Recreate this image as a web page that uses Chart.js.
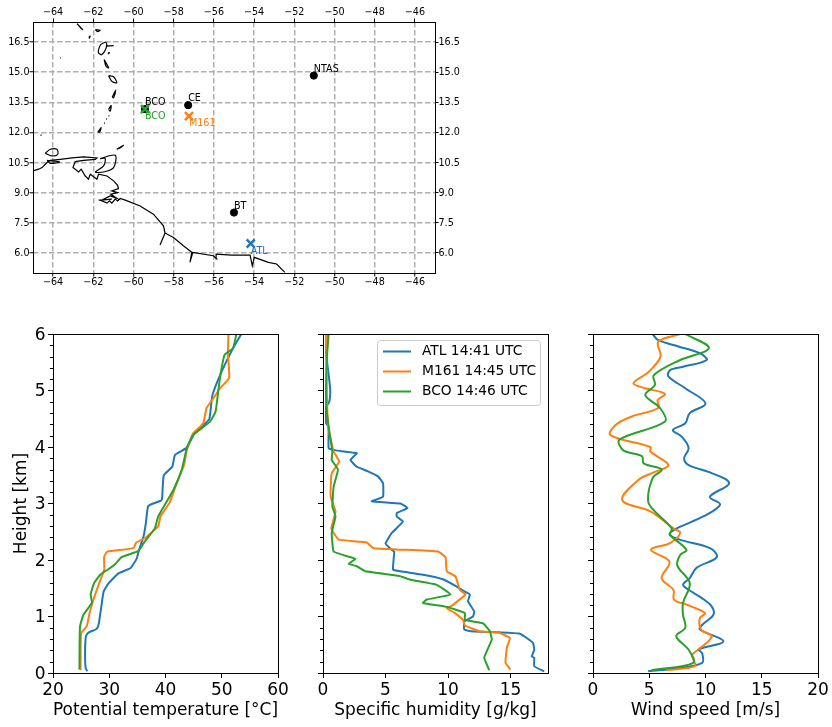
<!DOCTYPE html>
<html>
<head>
<meta charset="utf-8">
<title>Soundings</title>
<script src="https://cdn.jsdelivr.net/npm/chart.js@4/dist/chart.umd.js"></script>
<style>
  html, body { margin: 0; padding: 0; background: #fff; }
  canvas { position: absolute; }
</style>
</head>
<body>
<canvas id="mapChart" width="470" height="300" style="left:0;top:0"></canvas>
<canvas id="thetaChart" width="300" height="407" style="left:0;top:320px"></canvas>
<canvas id="humidityChart" width="270" height="407" style="left:300px;top:320px"></canvas>
<canvas id="windChart" width="262" height="407" style="left:570px;top:320px"></canvas>
<script>
// Tick labels
const lonTicks = [-64, -62, -60, -58, -56, -54, -52, -50, -48, -46];
const latTicks = [6, 7.5, 9, 10.5, 12, 13.5, 15, 16.5];
const heightMinorTicks = [0.2, 0.4, 0.6, 0.8, 1.2, 1.4, 1.6, 1.8, 2.2, 2.4, 2.6, 2.8, 3.2, 3.4, 3.6, 3.8, 4.2, 4.4, 4.6, 4.8, 5.2, 5.4, 5.6, 5.8];

// Stations on the map
const stationNames = ['BCO', 'CE', 'NTAS', 'BT'];
const stationLon = [-59.43, -57.28, -51.03, -55.0];
const stationLat = [13.16, 13.36, 14.83, 8.01];
const launchNames = ['ATL', 'M161', 'BCO'];
const launchLon = [-54.17, -57.24, -59.43];
const launchLat = [6.47, 12.81, 13.16];

// Coast of South America
const mainCoastLon = [-65, -64.72, -64.55, -64.3, -64.14, -63.64, -63.06, -62.48, -61.82, -61.9, -62.48, -62.9, -63.01, -62.73, -62.6, -62.4, -62.24, -62.15, -61.82, -61.74, -61.32, -60.99, -60.79, -60.75, -61.08, -60.79, -61.13, -60.83, -61.16, -61.58, -61.08, -61.66, -61.32, -61.19, -61.08, -60.91, -60.79, -60.66, -60.41, -59.67, -59.01, -58.51, -58.43, -58.68, -58.43, -58.01, -57.52, -57.1, -57.19, -57.05, -56.03, -55.86, -55.89, -55.12, -54.2, -54.09, -53.99, -53.29, -52.88, -52.47];
const mainCoastLat = [10.08, 10.17, 10.25, 10.5, 10.61, 10.66, 10.73, 10.78, 10.73, 10.66, 10.61, 10.55, 10.25, 10.03, 10.17, 9.83, 9.67, 9.92, 9.67, 9.92, 9.83, 9.59, 9.37, 9.2, 9.09, 9.0, 8.92, 8.72, 8.84, 8.63, 8.68, 8.63, 8.48, 8.59, 8.48, 8.68, 8.59, 8.71, 8.63, 8.34, 7.93, 7.35, 6.99, 6.39, 6.99, 6.77, 6.36, 6.03, 5.53, 6.03, 5.86, 5.7, 5.94, 5.89, 5.89, 5.36, 5.78, 5.53, 5.45, 5.03];

// Islands, null starts a new one
const islandLon = [-61.66, -60.91, -60.99, -61.49, -61.9, -61.49, -61.41, -61.66, null,
  -64.39, -64.14, -63.81, -63.77, -64.06, -64.39, null,
  -64.3, -63.68, -64.14, -64.3, null,
  -60.83, -60.5, -60.7, -60.83, null,
  -61.77, -61.61, -61.69, -61.77, null,
  -61.46, -61.42, null, -61.36, -61.32, null, -61.24, -61.2, null,
  -61.24, -61.11, -61.16, -61.24, null,
  -61.06, -60.88, -60.99, -61.06, null,
  -61.24, -60.99, -60.83, -61.08, -61.24, null,
  -61.46, -61.24, -61.37, -61.46, null,
  -61.74, -61.63, -61.38, -61.33, -61.57, -61.74, -61.74, null,
  -61.38, -60.99, null,
  -61.27, -61.2, -61.24, -61.27, null,
  -61.9, -61.66, -61.79, -61.9, null,
  -62.22, -62.16, -62.19, -62.22, null,
  -62.81, -62.53, -62.6, -62.81, null,
  -64.63, -64.57, null,
  -63.66, -63.62];
const islandLat = [10.7, 10.86, 10.25, 10.03, 10.03, 10.33, 10.7, 10.7, null,
  10.96, 11.16, 11.16, 10.91, 10.83, 10.96, null,
  10.61, 10.53, 10.46, 10.61, null,
  11.16, 11.36, 11.21, 11.16, null,
  12.02, 12.24, 12.02, 12.02, null,
  12.45, 12.48, null, 12.65, 12.68, null, 12.81, 12.84, null,
  13.15, 13.34, 13.06, 13.15, null,
  13.76, 14.11, 13.73, 13.76, null,
  14.83, 14.77, 14.47, 14.55, 14.83, null,
  15.63, 15.22, 15.3, 15.63, null,
  16.13, 16.37, 16.49, 16.29, 15.88, 15.96, 16.13, null,
  16.3, 16.32, null,
  15.96, 15.98, 15.92, 15.96, null,
  17.12, 17.09, 17.02, 17.12, null,
  16.75, 16.8, 16.7, 16.75, null,
  17.42, 17.12, 17.17, 17.42, null,
  11.87, 11.87, null,
  15.71, 15.71];

// Potential temperature profiles
const atlThetaHeight = [0.03, 0.09, 0.35, 0.62, 0.68, 0.72, 0.77, 0.82, 0.91, 1.18, 1.44, 1.59, 1.76, 1.86, 2.03, 2.18, 2.42, 2.65, 2.95, 3.0, 3.05, 3.1, 3.5, 3.65, 3.86, 3.98, 4.08, 4.25, 4.37, 4.5, 4.9, 5.2, 5.55, 5.8, 6.0];
const atlTheta = [26.1, 25.8, 25.7, 25.8, 26.0, 26.4, 27.6, 28.0, 28.2, 28.6, 29.0, 29.9, 31.6, 33.8, 34.9, 35.3, 36.1, 36.5, 36.9, 37.8, 39.2, 39.4, 39.7, 41.2, 41.7, 43.7, 44.3, 45.2, 46.6, 47.8, 48.3, 49.4, 51.0, 52.3, 53.5];
const m161ThetaHeight = [0.05, 0.7, 0.83, 1.06, 1.3, 1.56, 1.83, 2.06, 2.15, 2.21, 2.31, 2.39, 2.6, 2.77, 3.03, 3.42, 3.68, 3.95, 4.24, 4.42, 4.69, 4.86, 5.04, 5.22, 5.66, 6.0];
const m161Theta = [24.9, 25.0, 26.0, 26.5, 27.2, 28.1, 29.1, 29.1, 29.7, 34.3, 34.8, 36.4, 38.7, 39.1, 40.8, 42.2, 43.3, 43.8, 44.9, 46.7, 47.3, 48.5, 49.7, 51.3, 51.1, 51.2];
const bcoThetaHeight = [0.06, 0.82, 1.03, 1.24, 1.39, 1.59, 1.74, 1.84, 1.92, 2.05, 2.16, 2.3, 2.56, 2.77, 3.24, 3.6, 3.98, 4.21, 4.45, 4.63, 5.01, 5.3, 5.63, 5.75, 6.0];
const bcoTheta = [24.7, 24.8, 25.4, 26.9, 26.7, 27.3, 28.4, 29.9, 31.0, 32.2, 35.2, 36.1, 38.1, 38.7, 41.4, 42.9, 43.8, 44.9, 47.9, 48.9, 49.4, 49.8, 50.5, 52.0, 52.6];

// Specific humidity profiles
const atlHumidityHeight = [0.03, 0.12, 0.27, 0.29, 0.41, 0.53, 0.62, 0.7, 0.72, 0.74, 0.77, 0.91, 1.0, 1.09, 1.27, 1.39, 1.44, 1.53, 1.66, 1.74, 1.8, 1.83, 2.15, 2.18, 2.29, 2.48, 2.68, 2.77, 2.83, 2.92, 3.0, 3.04, 3.12, 3.36, 3.48, 3.57, 3.65, 3.77, 3.89, 3.94, 3.98, 4.36, 4.42, 4.71, 4.8, 5.0, 5.19, 5.66, 6.0];
const atlHumidity = [17.7, 16.9, 16.9, 16.7, 16.9, 16.8, 16.3, 15.7, 14.1, 11.8, 11.3, 11.3, 12.0, 12.1, 11.6, 11.75, 11.35, 10.7, 9.6, 8.0, 6.2, 5.6, 5.7, 5.5, 5.0, 5.5, 6.4, 5.9, 5.9, 6.75, 6.2, 3.9, 4.8, 4.8, 4.4, 3.6, 2.7, 2.2, 2.7, 1.0, 0.45, 0.45, 0.25, 0.25, 0.5, 0.58, 0.5, 0.25, 0.3];
const m161HumidityHeight = [0.06, 0.18, 0.44, 0.62, 0.71, 0.74, 0.84, 0.94, 1.06, 1.15, 1.19, 1.39, 1.47, 1.71, 1.8, 2.05, 2.15, 2.21, 2.31, 2.36, 2.48, 2.56, 2.86, 3.09, 3.18, 3.54, 3.74, 3.92, 4.36, 5.07, 6.0];
const m161Humidity = [15.0, 14.6, 14.7, 14.95, 14.1, 12.5, 11.35, 11.2, 10.55, 9.9, 10.3, 11.4, 10.95, 10.6, 9.9, 9.8, 9.2, 4.05, 3.5, 1.25, 0.85, 0.66, 1.0, 0.65, 0.6, 0.7, 1.3, 0.85, 0.4, 0.3, 0.25];
const bcoHumidityHeight = [0.05, 0.27, 0.59, 0.74, 0.88, 0.94, 1.06, 1.17, 1.24, 1.3, 1.39, 1.56, 1.65, 1.72, 1.8, 1.89, 1.93, 2.02, 2.06, 2.15, 2.48, 2.77, 2.95, 3.3, 3.6, 3.77, 3.92, 4.36, 4.77, 5.54, 6.0];
const bcoHumidity = [13.3, 12.9, 13.5, 13.35, 12.8, 11.35, 11.35, 9.9, 8.0, 8.3, 10.2, 9.1, 7.0, 6.05, 3.4, 2.7, 2.05, 2.6, 2.05, 0.85, 0.7, 1.0, 0.75, 0.85, 1.2, 0.7, 0.75, 0.45, 0.25, 0.3, 0.45];

// Wind speed profiles
const atlWindHeight = [0.03, 0.09, 0.18, 0.35, 0.42, 0.56, 0.77, 0.85, 1.03, 1.18, 1.33, 1.46, 1.56, 1.68, 1.86, 2.05, 2.21, 2.36, 2.45, 2.56, 2.77, 2.98, 3.12, 3.36, 3.55, 3.68, 3.8, 3.98, 4.18, 4.3, 4.42, 4.6, 4.77, 5.04, 5.25, 5.36, 5.42, 5.54, 5.66, 5.78, 5.89, 6.0];
const atlWind = [4.9, 7.7, 9.7, 9.7, 9.4, 11.6, 9.5, 9.7, 10.7, 10.55, 9.65, 8.6, 8.0, 8.6, 9.2, 11.0, 10.4, 7.7, 6.8, 7.45, 9.8, 11.3, 10.4, 12.1, 10.4, 8.5, 8.1, 8.5, 7.9, 7.1, 8.2, 8.6, 10.0, 8.2, 6.7, 6.85, 8.0, 10.1, 9.5, 7.6, 5.8, 5.3];
const m161WindHeight = [0.05, 0.12, 0.27, 0.32, 0.64, 0.77, 0.97, 1.06, 1.21, 1.3, 1.47, 1.68, 1.97, 2.18, 2.3, 2.48, 2.56, 2.86, 3.06, 3.42, 3.55, 3.68, 3.92, 4.0, 4.21, 4.39, 4.54, 4.69, 4.83, 4.94, 5.04, 5.13, 5.33, 5.6, 5.86, 6.0];
const m161Wind = [6.55, 9.05, 8.85, 8.8, 10.55, 9.6, 9.5, 9.95, 8.3, 7.2, 7.15, 6.1, 6.8, 5.15, 6.85, 7.75, 7.15, 5.1, 2.6, 4.05, 5.4, 6.7, 5.1, 5.1, 1.55, 2.0, 3.45, 5.8, 5.75, 6.4, 4.65, 3.6, 4.95, 6.0, 5.8, 7.75];
const bcoWindHeight = [0.05, 0.18, 0.41, 0.65, 0.8, 1.03, 1.24, 1.59, 1.9, 2.09, 2.18, 2.45, 2.56, 2.86, 3.04, 3.45, 3.6, 3.71, 3.84, 3.94, 4.13, 4.45, 4.69, 4.92, 5.1, 5.27, 5.54, 5.75, 6.0];
const bcoWind = [5.2, 8.9, 8.5, 7.4, 8.2, 8.0, 8.0, 8.6, 7.5, 7.75, 8.3, 6.85, 7.0, 5.5, 4.9, 5.3, 6.1, 4.5, 4.35, 2.7, 2.35, 6.4, 5.95, 4.65, 5.5, 5.4, 7.75, 10.3, 8.2];

const ATL_COLOR = '#1f77b4';
const M161_COLOR = '#ff7f0e';
const BCO_COLOR = '#2ca02c';
const FONT = '"DejaVu Sans"';

Chart.defaults.font.family = FONT;
Chart.defaults.color = '#000';

// Pairs two value lists into the points a scatter dataset wants
function points(xs, ys) {
  return xs.map((x, i) => ({ x: x, y: ys[i] }));
}

function fixedTicks(values) {
  return (scale) => { scale.ticks = values.map((v) => ({ value: v })); };
}

function minusSign(v) {
  return String(v).replace('-', '\u2212');
}

// Box around the plot area, the y axes only give one side of it
const framePlugin = {
  id: 'frame',
  afterDatasetsDraw(chart) {
    const a = chart.chartArea;
    const ctx = chart.ctx;
    ctx.save();
    ctx.strokeStyle = '#000';
    ctx.lineWidth = 1;
    ctx.strokeRect(Math.round(a.left) + 0.5, Math.round(a.top) + 0.5, Math.round(a.width), Math.round(a.height));
    ctx.restore();
  }
};

// Short ticks between the km marks
const minorTickPlugin = {
  id: 'minorTicks',
  afterDraw(chart) {
    const ctx = chart.ctx;
    const left = chart.chartArea.left;
    ctx.save();
    ctx.strokeStyle = '#000';
    ctx.lineWidth = 1;
    heightMinorTicks.forEach((v) => {
      const y = Math.round(chart.scales.y.getPixelForValue(v)) + 0.5;
      ctx.beginPath();
      ctx.moveTo(left, y);
      ctx.lineTo(left - 3, y);
      ctx.stroke();
    });
    ctx.restore();
  }
};

// Station names next to the markers on the map
const mapLabelPlugin = {
  id: 'mapLabels',
  afterDatasetsDraw(chart) {
    const ctx = chart.ctx;
    const x = chart.scales.x;
    const y = chart.scales.y;
    ctx.save();
    ctx.font = '9.6px ' + FONT;
    ctx.textAlign = 'left';
    ctx.textBaseline = 'alphabetic';
    ctx.fillStyle = '#000';
    stationNames.forEach((name, i) => {
      ctx.fillText(name, x.getPixelForValue(stationLon[i]), y.getPixelForValue(stationLat[i] + 0.2));
    });
    const colors = [ATL_COLOR, M161_COLOR, BCO_COLOR];
    launchNames.forEach((name, i) => {
      ctx.fillStyle = colors[i];
      ctx.fillText(name, x.getPixelForValue(launchLon[i]), y.getPixelForValue(launchLat[i] - 0.5));
    });
    ctx.restore();
  }
};

// Legend with a frame, inside the humidity panel
const legendBoxPlugin = {
  id: 'legendBox',
  afterDraw(chart) {
    const ctx = chart.ctx;
    ctx.save();
    ctx.beginPath();
    ctx.roundRect(77.5, 20.5, 163, 65, 3);
    ctx.fillStyle = 'rgba(255,255,255,0.8)';
    ctx.fill();
    ctx.strokeStyle = '#ccc';
    ctx.lineWidth = 1;
    ctx.stroke();
    ctx.font = '13.8px ' + FONT;
    ctx.textBaseline = 'middle';
    chart.data.datasets.forEach((ds, i) => {
      const rowY = 31.5 + i * 20;
      ctx.strokeStyle = ds.borderColor;
      ctx.lineWidth = 2;
      ctx.beginPath();
      ctx.moveTo(83, rowY);
      ctx.lineTo(111, rowY);
      ctx.stroke();
      ctx.fillStyle = '#000';
      ctx.fillText(ds.label, 122, rowY);
    });
    ctx.restore();
  }
};

// One of the three profile panels
function makeProfile(id, title, xMin, xMax, xStep, series, tension, yLabels) {
  return new Chart(document.getElementById(id), {
    type: 'scatter',
    data: {
      datasets: series.map((s, i) => ({
        label: s.label,
        data: points(s.xs, s.ys),
        showLine: true,
        borderColor: s.color,
        backgroundColor: s.color,
        borderWidth: 2,
        pointRadius: 0,
        tension: tension,
        order: series.length - i
      }))
    },
    options: {
      responsive: false,
      animation: false,
      devicePixelRatio: 1,
      layout: { padding: { top: 14, right: id === 'windChart' ? 14 : 22, bottom: 0, left: 0 } },
      plugins: { legend: { display: false }, tooltip: { enabled: false } },
      scales: {
        x: {
          type: 'linear', min: xMin, max: xMax,
          afterBuildTicks: (s) => { s.ticks = []; for (let v = xMin; v <= xMax; v += xStep) s.ticks.push({ value: v }); },
          afterFit: (s) => { s.height = 54; },
          grid: { drawOnChartArea: false, tickLength: 5, tickColor: '#000', tickWidth: 1 },
          border: { display: false },
          ticks: { font: { size: 17 }, padding: 2, maxRotation: 0, autoSkip: false },
          title: { display: true, text: title, font: { size: 17 }, padding: { top: 0, bottom: 6 } }
        },
        y: {
          type: 'linear', min: 0, max: 6,
          afterBuildTicks: fixedTicks([0, 1, 2, 3, 4, 5, 6]),
          afterFit: (s) => { s.width = id === 'thetaChart' ? 53 : 23; },
          grid: { drawOnChartArea: false, tickLength: 5, tickColor: '#000', tickWidth: 1 },
          border: { display: false },
          ticks: { display: yLabels, font: { size: 17 }, padding: 2.5, labelOffset: 1.5, autoSkip: false },
          title: { display: yLabels, text: 'Height [km]', font: { size: 17 }, padding: { top: 11, bottom: 0 } }
        }
      }
    },
    plugins: id === 'humidityChart' ? [framePlugin, minorTickPlugin, legendBoxPlugin] : [framePlugin, minorTickPlugin]
  });
}

// Map panel, longitude and latitude labelled on all four sides
const mapTickFont = { size: 9.6 };
const mapGrid = { color: '#b0b0b0', lineWidth: 1.5, tickColor: '#000', tickWidth: 1, tickLength: 3.5 };
const mapGridBorder = { display: false, dash: [5.5, 2.5] };
const mapSideGrid = { drawOnChartArea: false, tickColor: '#000', tickWidth: 1, tickLength: 3.5 };

new Chart(document.getElementById('mapChart'), {
  type: 'scatter',
  data: {
    datasets: [
      { data: points(launchLon, launchLat), pointStyle: 'crossRot', pointRadius: 5.7, pointBorderWidth: 2.5, pointBorderColor: [ATL_COLOR, M161_COLOR, BCO_COLOR] },
      { data: points(stationLon, stationLat), pointStyle: 'circle', pointRadius: 3.6, backgroundColor: '#000', borderColor: '#000' },
      { data: points(mainCoastLon, mainCoastLat), showLine: true, borderColor: '#000', borderWidth: 1.2, pointRadius: 0 },
      { data: points(islandLon, islandLat), showLine: true, borderColor: '#000', borderWidth: 1.2, pointRadius: 0, tension: 0.3 }
    ]
  },
  options: {
    responsive: false,
    animation: false,
    devicePixelRatio: 1,
    layout: { padding: 0 },
    plugins: { legend: { display: false }, tooltip: { enabled: false } },
    scales: {
      x: {
        type: 'linear', position: 'bottom', min: -65, max: -45,
        afterBuildTicks: fixedTicks(lonTicks),
        afterFit: (s) => { s.height = 27; },
        grid: mapGrid,
        border: mapGridBorder,
        ticks: { font: mapTickFont, padding: 0, maxRotation: 0, autoSkip: false, callback: minusSign }
      },
      xTop: {
        type: 'linear', position: 'top', min: -65, max: -45,
        afterBuildTicks: fixedTicks(lonTicks),
        afterFit: (s) => { s.height = 22; },
        grid: mapSideGrid,
        border: { display: false },
        ticks: { font: mapTickFont, padding: 0, maxRotation: 0, autoSkip: false, callback: minusSign }
      },
      y: {
        type: 'linear', position: 'left', min: 5, max: 17.5,
        afterBuildTicks: fixedTicks(latTicks),
        afterFit: (s) => { s.width = 33; },
        grid: mapGrid,
        border: mapGridBorder,
        ticks: { font: mapTickFont, padding: 0, labelOffset: 0.5, autoSkip: false, callback: (v) => v.toFixed(1) }
      },
      yRight: {
        type: 'linear', position: 'right', min: 5, max: 17.5,
        afterBuildTicks: fixedTicks(latTicks),
        afterFit: (s) => { s.width = 35; },
        grid: mapSideGrid,
        border: { display: false },
        ticks: { font: mapTickFont, padding: 0, labelOffset: 0.5, autoSkip: false, callback: (v) => v.toFixed(1) }
      }
    }
  },
  plugins: [framePlugin, mapLabelPlugin]
});

makeProfile('thetaChart', 'Potential temperature [\u00b0C]', 20, 60, 10, [
  { label: 'ATL 14:41 UTC', xs: atlTheta, ys: atlThetaHeight, color: ATL_COLOR },
  { label: 'M161 14:45 UTC', xs: m161Theta, ys: m161ThetaHeight, color: M161_COLOR },
  { label: 'BCO 14:46 UTC', xs: bcoTheta, ys: bcoThetaHeight, color: BCO_COLOR }
], 0.15, true);

makeProfile('humidityChart', 'Specific humidity [g/kg]', 0, 18, 5, [
  { label: 'ATL 14:41 UTC', xs: atlHumidity, ys: atlHumidityHeight, color: ATL_COLOR },
  { label: 'M161 14:45 UTC', xs: m161Humidity, ys: m161HumidityHeight, color: M161_COLOR },
  { label: 'BCO 14:46 UTC', xs: bcoHumidity, ys: bcoHumidityHeight, color: BCO_COLOR }
], 0.1, false);

makeProfile('windChart', 'Wind speed [m/s]', 0, 20, 5, [
  { label: 'ATL 14:41 UTC', xs: atlWind, ys: atlWindHeight, color: ATL_COLOR },
  { label: 'M161 14:45 UTC', xs: m161Wind, ys: m161WindHeight, color: M161_COLOR },
  { label: 'BCO 14:46 UTC', xs: bcoWind, ys: bcoWindHeight, color: BCO_COLOR }
], 0.35, false);
</script>
</body>
</html>
